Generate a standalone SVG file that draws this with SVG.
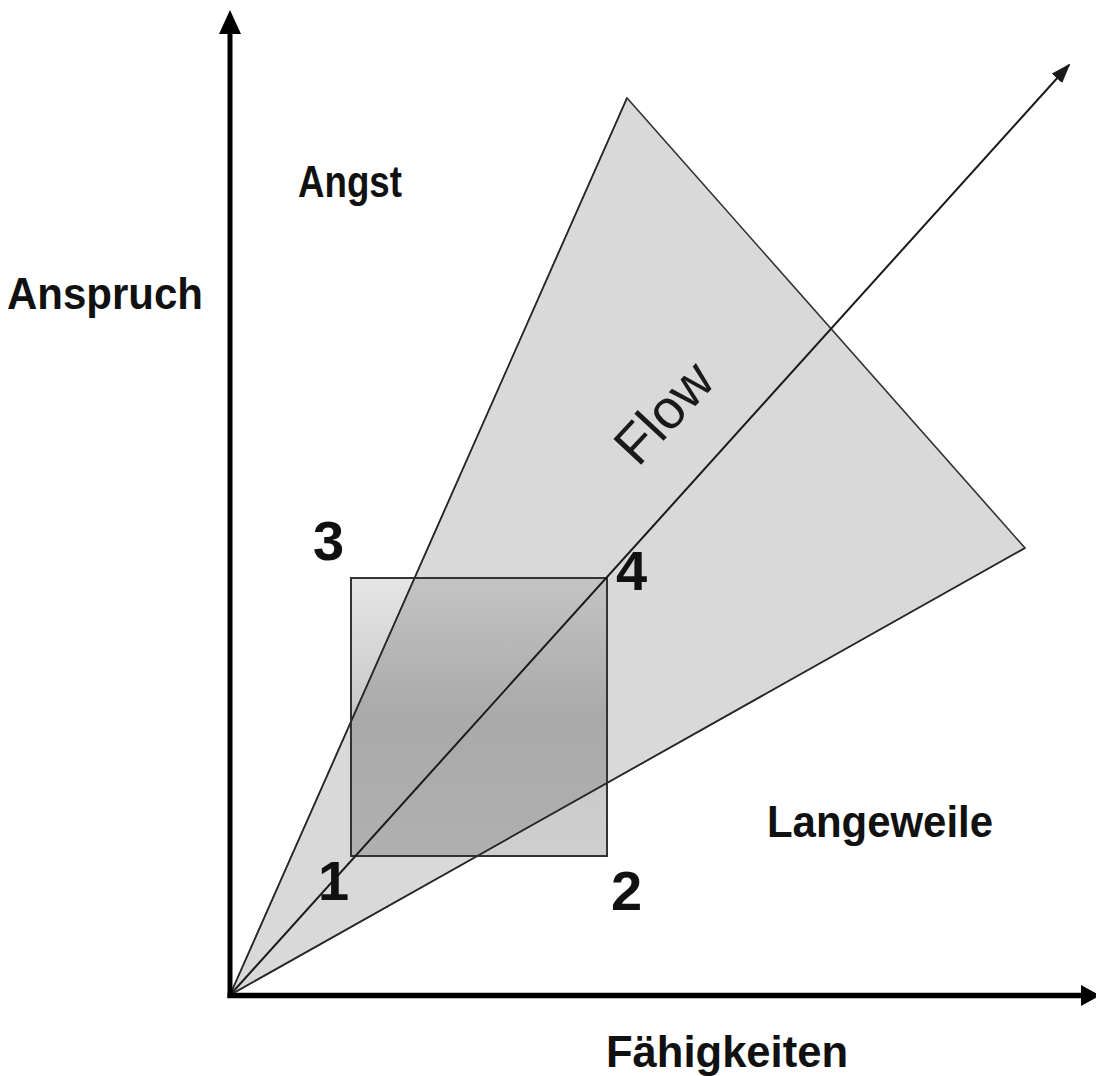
<svg xmlns="http://www.w3.org/2000/svg" width="1096" height="1076" viewBox="0 0 1096 1076">
  <defs>
    <linearGradient id="sqGrad" x1="0" y1="0" x2="0" y2="1">
      <stop offset="0" stop-color="#000" stop-opacity="0.10"/>
      <stop offset="0.5" stop-color="#000" stop-opacity="0.22"/>
      <stop offset="1" stop-color="#000" stop-opacity="0.19"/>
    </linearGradient>
    <marker id="diagHead" viewBox="0 0 20 14" refX="18" refY="7" markerWidth="20" markerHeight="14" markerUnits="userSpaceOnUse" orient="auto">
      <path d="M0,0 L20,7 L0,14 Z" fill="#1a1a1a"/>
    </marker>
  </defs>
  <style>
    .lbl { font-family: "Liberation Sans", Arial, sans-serif; font-weight: bold; font-size: 44px; fill: #111; }
    .num { font-family: "Liberation Sans", Arial, sans-serif; font-weight: bold; font-size: 56px; fill: #111; }
    .flow { font-family: "Liberation Sans", Arial, sans-serif; font-size: 55px; fill: #1a1a1a; }
    .edge { fill: none; stroke: #2a2a2a; stroke-width: 1.6; }
  </style>
  <rect width="1096" height="1076" fill="#fff"/>

  <g id="flow-channel">
    <polygon points="230,995 627,98 1025,548" fill="#d9d9d9" stroke="#333" stroke-width="1.6" stroke-linejoin="miter"/>
  </g>

  <g id="square">
    <rect x="351" y="578" width="256" height="278" fill="url(#sqGrad)" stroke="#333" stroke-width="2"/>
  </g>

  <g id="connectors">
    <line class="edge" x1="230" y1="995" x2="627" y2="98"/>
    <line class="edge" x1="230" y1="995" x2="1025" y2="548"/>
    <line x1="230" y1="995" x2="1069" y2="65" stroke="#1a1a1a" stroke-width="2" marker-end="url(#diagHead)"/>
    <line x1="230" y1="998" x2="230" y2="30" stroke="#000" stroke-width="5"/>
    <path d="M230,10 L241,34 L219,34 Z" fill="#000"/>
    <line x1="227.5" y1="995.5" x2="1082" y2="995.5" stroke="#000" stroke-width="5.5"/>
    <path d="M1100,995.5 L1081,985 L1081,1006 Z" fill="#000"/>
  </g>

  <g id="label-flow">
    <text class="flow" transform="translate(638,468) rotate(-47)">Flow</text>
  </g>
  <g id="label-angst"><text class="lbl" x="298" y="197" textLength="104" lengthAdjust="spacingAndGlyphs">Angst</text></g>
  <g id="label-anspruch"><text class="lbl" x="7" y="309" textLength="196" lengthAdjust="spacingAndGlyphs">Anspruch</text></g>
  <g id="label-langeweile"><text class="lbl" x="767" y="837" textLength="226" lengthAdjust="spacingAndGlyphs">Langeweile</text></g>
  <g id="label-faehigkeiten"><text class="lbl" x="606" y="1067" textLength="242" lengthAdjust="spacingAndGlyphs">Fähigkeiten</text></g>
  <g id="label-1"><text class="num" x="318" y="900">1</text></g>
  <g id="label-2"><text class="num" x="611" y="910">2</text></g>
  <g id="label-3"><text class="num" x="313" y="560">3</text></g>
  <g id="label-4"><text class="num" x="616" y="590">4</text></g>
</svg>
